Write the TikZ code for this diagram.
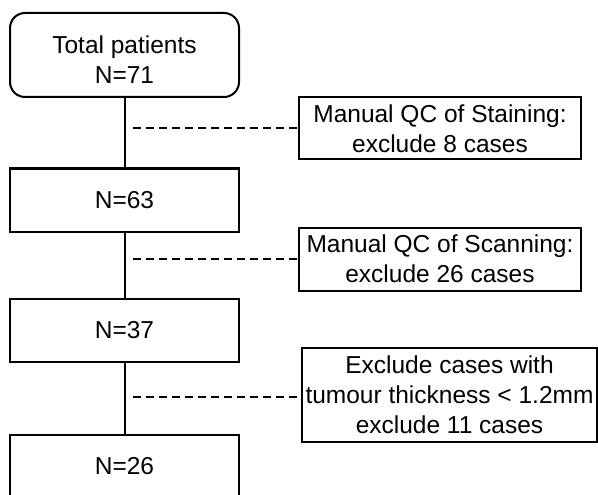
\documentclass[tikz,border=0pt]{standalone}
\usepackage{fontspec}
\setmainfont{Liberation Sans}
\begin{document}
\begin{tikzpicture}[x=1pt,y=-1pt,
  box/.style={draw,line width=2pt,minimum width=229pt,minimum height=63pt,inner sep=0pt,align=center,font=\fontsize{24.5}{30}\selectfont},
  sidebox/.style={box,minimum width=282pt,minimum height=62pt},
  trunk/.style={line width=2pt},
  dashline/.style={line width=2pt,dash pattern=on 8pt off 5pt}]
\useasboundingbox (0,0) rectangle (598,495);
\clip (0,0) rectangle (598,495);
\node[box,rounded corners=15pt,minimum height=84pt] (b1) at (124.5,55) {\rule{0pt}{28pt}Total patients\\N=71};
\node[box] (b2) at (124.5,200) {N=63};
\node[box] (b3) at (124.5,330) {N=37};
\node[box] (b4) at (124.5,466.5) {N=26};
\node[sidebox] (r1) at (440,128.5) {Manual QC of Staining:\\exclude 8 cases};
\node[sidebox,minimum height=63pt] (r2) at (440,259) {Manual QC of Scanning:\\exclude 26 cases};
\node[sidebox,minimum width=295pt,minimum height=94pt] (r3) at (449.5,394.5) {Exclude cases with\\tumour thickness < 1.2mm\\exclude 11 cases};
\draw[trunk] (b1) -- (b2);
\draw[trunk] (b2) -- (b3);
\draw[trunk] (b3) -- (b4);
\coordinate (d1) at (133,128);
\coordinate (d2) at (133,259);
\coordinate (d3) at (133,397);
\draw[dashline] (d1) -- (d1 -| r1.west);
\draw[dashline] (d2) -- (d2 -| r2.west);
\draw[dashline] (d3) -- (d3 -| r3.west);
\end{tikzpicture}
\end{document}
